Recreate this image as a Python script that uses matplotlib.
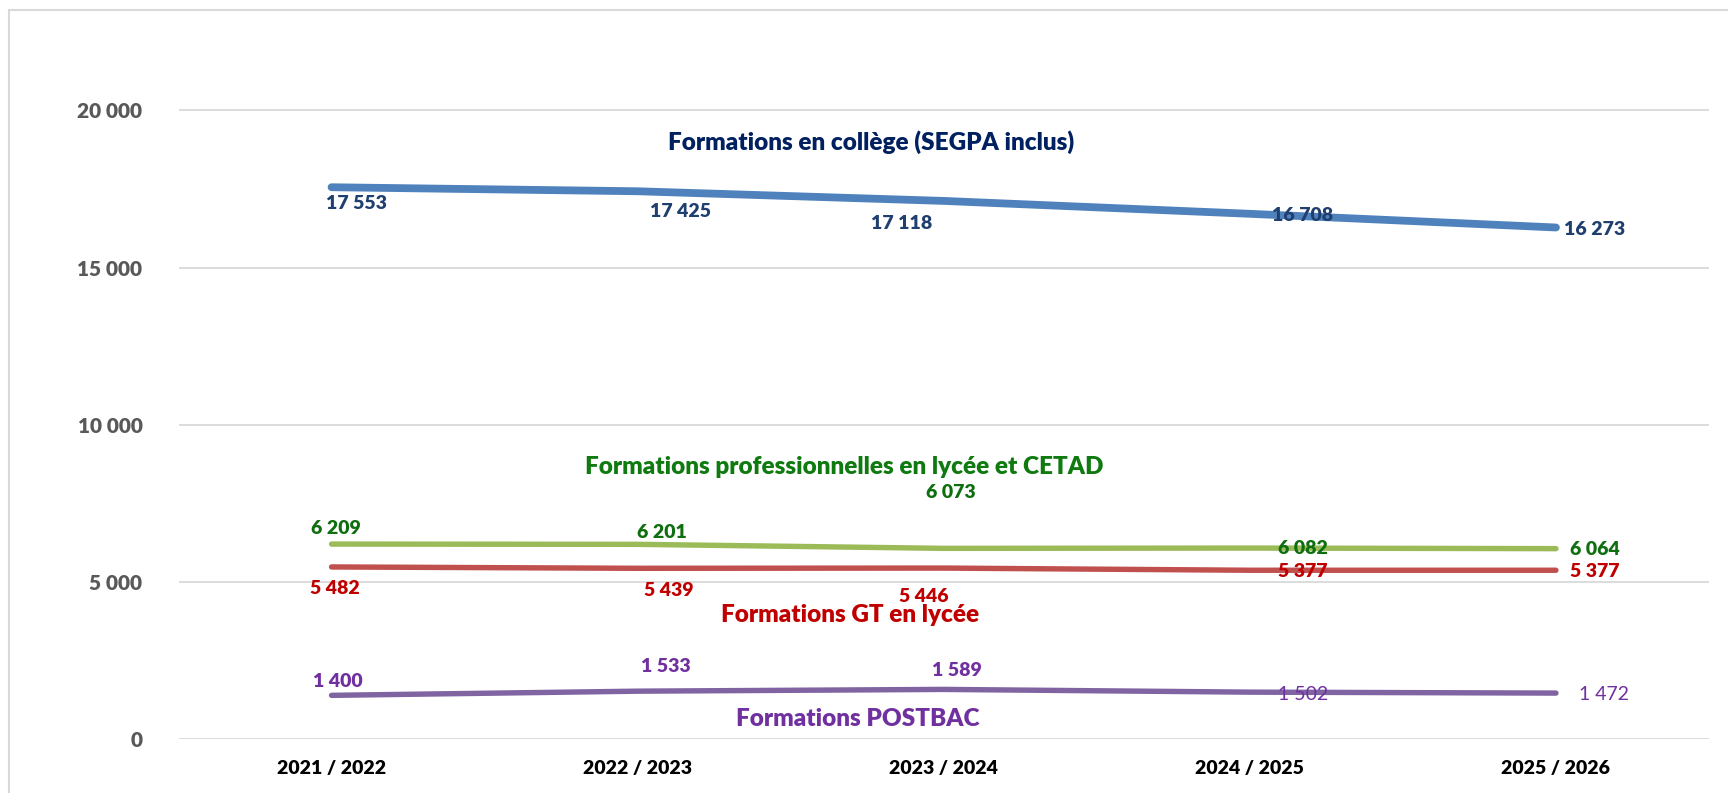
import matplotlib.pyplot as plt
from matplotlib.patches import Rectangle

# data
years = ['2021 / 2022', '2022 / 2023', '2023 / 2024', '2024 / 2025', '2025 / 2026']
college = [17553, 17425, 17118, 16708, 16273]
pro = [6209, 6201, 6073, 6082, 6064]
gt = [5482, 5439, 5446, 5377, 5377]
postbac = [1400, 1533, 1589, 1502, 1472]
yticks = [0, 5000, 10000, 15000, 20000]

def fr(v):
    return '{:,}'.format(v).replace(',', ' ')

plt.rcParams['font.family'] = ['Lato', 'DejaVu Sans']
W = 'heavy'

fig = plt.figure(figsize=(17.28, 7.93), dpi=100)
ax = fig.add_axes([0.1033, 0.0676, 0.8857, 0.8727])
fig.patches.append(Rectangle((0.005, -0.1), 1.2, 1.088, transform=fig.transFigure,
                             fill=False, edgecolor='#d9d9d9', linewidth=1.5))

x = list(range(len(years)))

# (values, line colour, label colour, width, label offsets in px, bold flags)
series = [
    (college, '#4f81bd', '#1f3f6e', 5.6,
     [(25, -16), (43, -20), (-42, -23), (53, -2), (39, -2)], [True] * 5),
    (pro, '#9bbb59', '#0f6e0f', 3.9,
     [(4, 16), (24, 12), (7, 56), (53, 0), (39, -1)], [True] * 5),
    (gt, '#c0504d', '#c00000', 3.9,
     [(3, -22), (31, -22), (-20, -28), (53, -1), (39, -1)], [True] * 5),
    (postbac, '#8064a2', '#7030a0', 3.9,
     [(6, 14), (28, 25), (13, 19), (53, -2), (48, -1)], [True, True, True, False, False]),
]

for vals, lc, tc, lw, offs, bolds in series:
    ax.plot(x, vals, color=lc, linewidth=lw, solid_capstyle='round', zorder=3)
    for xi, v, (dx, dy), b in zip(x, vals, offs, bolds):
        ax.annotate(fr(v), (xi, v), xytext=(dx, dy), textcoords='offset pixels',
                    ha='center', va='center', color=tc, fontsize=14,
                    fontweight=W if b else 'normal', zorder=4)

# series names
ax.text(1.763, 19000, 'Formations en collège (SEGPA inclus)',
        ha='center', va='center', color='#002060', fontsize=17.5, fontweight=W)
ax.text(1.676, 8650, 'Formations professionnelles en lycée et CETAD',
        ha='center', va='center', color='#0f7a0f', fontsize=17.5, fontweight=W)
ax.text(1.694, 3970, 'Formations GT en lycée',
        ha='center', va='center', color='#c00000', fontsize=17.5, fontweight=W)
ax.text(1.719, 660, 'Formations POSTBAC',
        ha='center', va='center', color='#7030a0', fontsize=17.5, fontweight=W)

ax.set_xlim(-0.5, 4.5)
ax.set_ylim(0, 22000)
ax.set_yticks(yticks)
ax.set_yticklabels([fr(t) for t in yticks], color='#595959', fontsize=15, fontweight=W)
ax.set_xticks(x)
ax.set_xticklabels(years, color='black', fontsize=14, fontweight=W)
ax.tick_params(length=0)
ax.tick_params(axis='y', pad=26)
ax.tick_params(axis='x', pad=15)
ax.grid(axis='y', color='#d9d9d9', linewidth=1.3)
ax.set_axisbelow(True)
for s in ax.spines.values():
    s.set_visible(False)

fig.savefig('out.png', dpi=100)
